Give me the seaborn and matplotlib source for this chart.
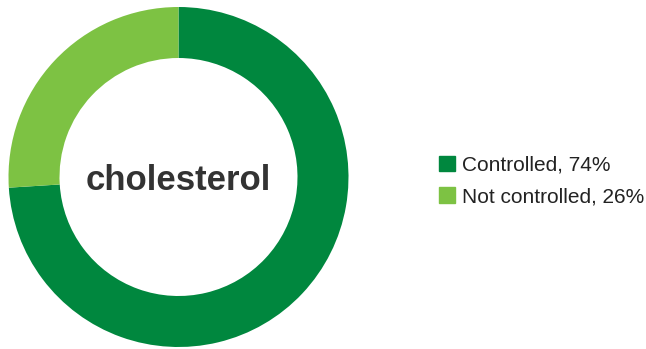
import matplotlib
matplotlib.use("Agg")
import matplotlib.pyplot as plt
import matplotlib.patches as mpatches
import seaborn as sns

categories = ["Controlled", "Not controlled"]
shares = [74, 26]
colors = ["#00873e", "#7dc243"]
center_label = "cholesterol"

sns.set_theme(style="white")
plt.rcParams["font.family"] = ["Liberation Sans", "DejaVu Sans"]

fig = plt.figure(figsize=(6.46, 3.49), dpi=100)
ax = fig.add_axes([8 / 646, 2 / 349, 341 / 646, 340 / 349])

# donut: 74% clockwise from 12 o'clock
ax.pie(
    shares,
    colors=colors,
    startangle=90,
    counterclock=False,
    radius=1,
    wedgeprops=dict(width=0.30, edgecolor="none"),
)
ax.set_xlim(-1, 1)
ax.set_ylim(-1, 1)
ax.set_aspect("equal")
ax.axis("off")

ax.text(0, -0.02, center_label, ha="center", va="center",
        fontsize=25, fontweight="bold", color="#333333")

handles = [mpatches.Patch(color=c) for c in colors]
labels = [f"{c}, {v}%" for c, v in zip(categories, shares)]
fig.legend(
    handles, labels,
    loc="center left",
    bbox_to_anchor=(439 / 646, 168 / 349),
    frameon=False,
    fontsize=15,
    handlelength=0.77,
    handleheight=0.77,
    handletextpad=0.35,
    labelspacing=0.62,
    borderpad=0,
    borderaxespad=0,
    labelcolor="#222222",
)

fig.savefig("out.png", dpi=100)
